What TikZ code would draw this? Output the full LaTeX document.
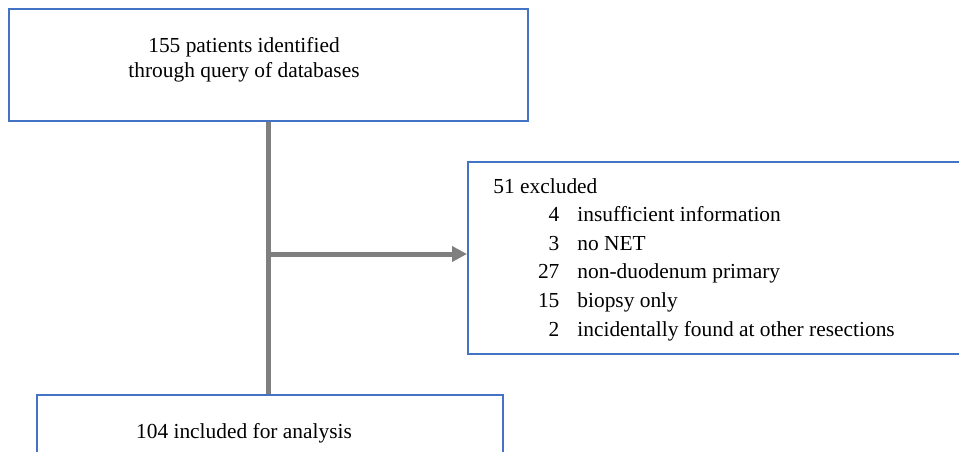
\documentclass[tikz,border=0pt]{standalone}
\usepackage{fontspec}
\setmainfont{Liberation Serif}
\usetikzlibrary{arrows.meta}
\definecolor{boxblue}{HTML}{4472C4}
\definecolor{flowgray}{HTML}{7F7F7F}
\begin{document}
\begin{tikzpicture}[x=0.5pt, y=-0.5pt,
  every node/.style={font=\fontsize{10.7}{14.3}\selectfont},
  stagebox/.style={draw=boxblue, line width=0.75pt, inner sep=0pt},
  flow/.style={draw=flowgray, line width=2.5pt}]
  \useasboundingbox (0,0) rectangle (959,451);

  % boxes
  \node[stagebox, minimum width=259.5pt, minimum height=56pt, anchor=north west] (ident) at (8,8) {};
  \node[stagebox, minimum width=254pt, minimum height=96pt, anchor=north west] (excl) at (467,161) {};
  \node[stagebox, minimum width=233pt, minimum height=40pt, anchor=north west] (incl) at (36,394) {};

  % texts
  \node[align=center, inner sep=0pt, anchor=base,
        font=\fontsize{10.7}{12.5}\selectfont] (identtxt) at (244,77)
    {155 patients identified\\through query of databases};
  \node[inner sep=0pt, anchor=base west] (excltxt) at (493,193) {%
    \begin{tabular}[t]{@{}l@{\hspace{9pt}}l@{}}
      \multicolumn{2}{@{}l@{}}{51 excluded}\\
      \makebox[33pt][r]{4} & insufficient information\\
      \makebox[33pt][r]{3} & no NET\\
      \makebox[33pt][r]{27} & non-duodenum primary\\
      \makebox[33pt][r]{15} & biopsy only\\
      \makebox[33pt][r]{2} & incidentally found at other resections
    \end{tabular}};
  \node[inner sep=0pt, anchor=base] (incltxt) at (244,438) {104 included for analysis};

  % connectors
  \coordinate (branch) at (268,254);
  \draw[flow] (ident.south -| branch) -- (branch |- incl.north);
  \draw[flow, -{Triangle[length=7.5pt, width=7.5pt]}] (branch) -- (branch -| excl.west);
\end{tikzpicture}
\end{document}
